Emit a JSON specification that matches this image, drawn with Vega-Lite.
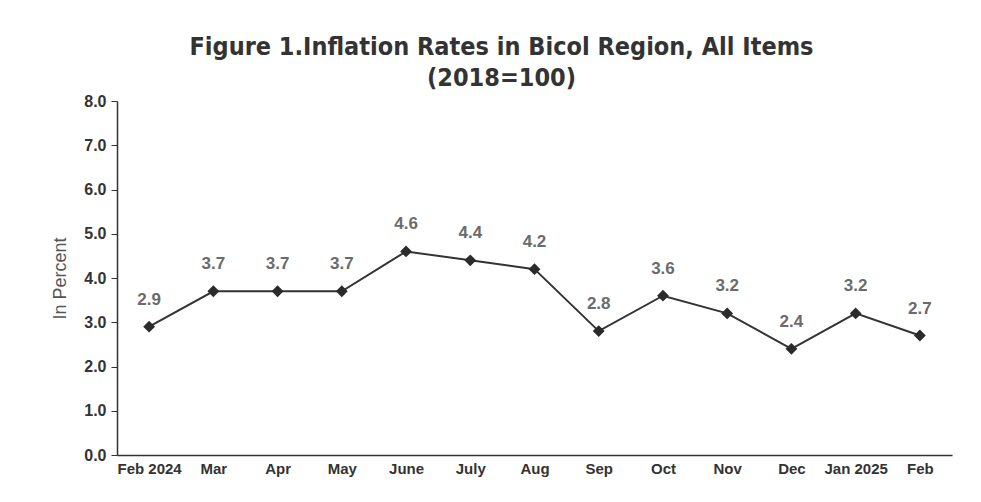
{
  "$schema": "https://vega.github.io/schema/vega-lite/v6.json",
  "autosize": "none",
  "width": 835,
  "height": 354,
  "padding": {"left": 117, "top": 101, "right": 29, "bottom": 47},
  "background": "white",
  "title": {
    "text": ["Figure 1.Inflation Rates in Bicol Region, All Items", "(2018=100)"],
    "font": "DejaVu Sans Condensed",
    "fontSize": 25,
    "fontWeight": "bold",
    "color": "#333333",
    "anchor": "middle",
    "dx": -33,
    "offset": 2,
    "lineHeight": 31
  },
  "data": {
    "values": [
      {"month": "Feb 2024", "rate": 2.9},
      {"month": "Mar", "rate": 3.7},
      {"month": "Apr", "rate": 3.7},
      {"month": "May", "rate": 3.7},
      {"month": "June", "rate": 4.6},
      {"month": "July", "rate": 4.4},
      {"month": "Aug", "rate": 4.2},
      {"month": "Sep", "rate": 2.8},
      {"month": "Oct", "rate": 3.6},
      {"month": "Nov", "rate": 3.2},
      {"month": "Dec", "rate": 2.4},
      {"month": "Jan 2025", "rate": 3.2},
      {"month": "Feb", "rate": 2.7}
    ]
  },
  "encoding": {
    "x": {
      "field": "month",
      "type": "nominal",
      "sort": null,
      "scale": {"paddingInner": 0, "paddingOuter": 0},
      "axis": {
        "title": null,
        "labelAngle": 0,
        "ticks": false,
        "labelPadding": 6,
        "labelFont": "Liberation Sans",
        "labelFontSize": 15,
        "labelFontWeight": "bold",
        "labelColor": "#333333",
        "domainColor": "#333333",
        "domainWidth": 1.5,
        "grid": false
      }
    },
    "y": {
      "field": "rate",
      "type": "quantitative",
      "scale": {"domain": [0, 8]},
      "axis": {
        "title": "In Percent",
        "titleFont": "Liberation Sans",
        "titleFontSize": 18,
        "titleFontWeight": "normal",
        "titleColor": "#555555",
        "titlePadding": 14,
        "values": [0, 1, 2, 3, 4, 5, 6, 7, 8],
        "format": ".1f",
        "labelFont": "Liberation Sans",
        "labelFontSize": 16,
        "labelFontWeight": "bold",
        "labelColor": "#333333",
        "labelPadding": 5,
        "tickSize": 6,
        "tickColor": "#333333",
        "domainColor": "#333333",
        "domainWidth": 1.5,
        "grid": false
      }
    }
  },
  "layer": [
    {"mark": {"type": "line", "color": "#333333", "strokeWidth": 2}},
    {"mark": {"type": "point", "shape": "diamond", "filled": true, "color": "#2b2b2b", "size": 140, "opacity": 1}},
    {
      "mark": {"type": "text", "dy": -27, "font": "Liberation Sans", "fontSize": 17, "fontWeight": "bold", "color": "#6b6b6b"},
      "encoding": {"text": {"field": "rate", "type": "quantitative", "format": ".1f"}}
    }
  ],
  "config": {"view": {"stroke": null}}
}
